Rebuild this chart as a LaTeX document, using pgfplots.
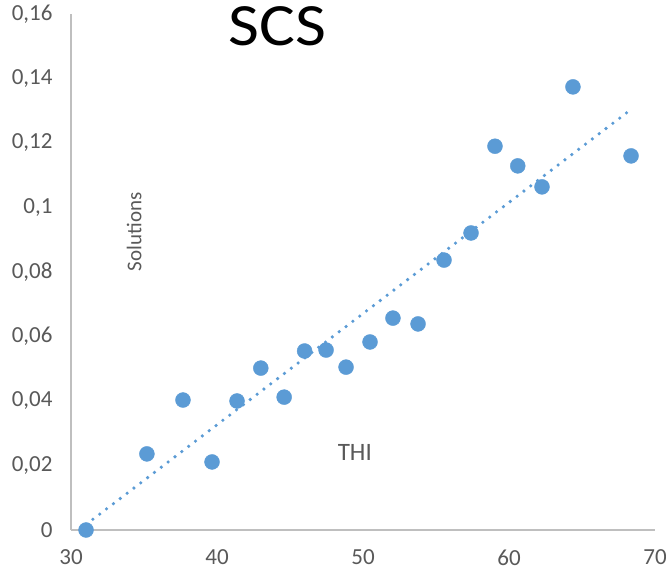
\documentclass[border=0pt]{standalone}
\usepackage{pgfplots}
\pgfplotsset{compat=1.18}
\usepackage{fontspec}
\setmainfont{Carlito}
\definecolor{pt}{HTML}{5B9BD5}
\definecolor{lbl}{HTML}{595959}
\definecolor{ax}{HTML}{BFBFBF}

\begin{document}
\begin{tikzpicture}
\begin{axis}[
  scale only axis, width=584pt, height=516pt,
  xmin=30, xmax=70, ymin=0, ymax=0.16,
  axis lines*=left,
  axis line style={ax, line width=1.3pt},
  xtick={30,40,50,60,70},
  ytick={0,0.02,0.04,0.06,0.08,0.1,0.12,0.14,0.16},
  major tick length=0pt,
  tick label style={font=\fontsize{23}{23}\selectfont, text=lbl},
  /pgf/number format/assume math mode=true,
  /pgf/number format/use comma,
  /pgf/number format/fixed,
  /pgf/number format/precision=2,
  yticklabel style={xshift=-15pt},
  xticklabel style={yshift=-16pt},
  clip=false,
]
% measured points
\addplot[only marks, mark=*, mark size=7.5pt, mark options={fill=pt, draw=pt}] coordinates {
  (31.03,0.0000) (35.2,0.0236) (37.67,0.0403) (39.66,0.0211) (41.37,0.0400)
  (43.0,0.0502) (44.6,0.0412) (46.0,0.0555) (47.47,0.0558) (48.84,0.0505)
  (50.48,0.0583) (52.05,0.0657) (53.77,0.0639) (55.55,0.0837) (57.4,0.0921)
  (59.04,0.1190) (60.6,0.1129) (62.26,0.1064) (64.38,0.1374) (68.36,0.1160)
};
% linear trend
\addplot[pt, line width=3.6pt, line cap=round, dash pattern=on 0pt off 8.6pt] coordinates {
  (31.03,0.0017) (68.36,0.1304)
};
\node[font=\fontsize{60}{60}\selectfont, text=black, xscale=1.12] at (rel axis cs:0.353,0.977) {SCS};
\node[font=\fontsize{21}{21}\selectfont, text=lbl, rotate=90] at (rel axis cs:0.108,0.578) {Solutions};
\node[font=\fontsize{25}{25}\selectfont, text=lbl] at (rel axis cs:0.486,0.151) {THI};
\end{axis}
\pgfresetboundingbox
\path[use as bounding box] (current axis.south west) ++(-71pt,-42pt) rectangle ++(666pt,572pt);
\end{tikzpicture}
\end{document}
